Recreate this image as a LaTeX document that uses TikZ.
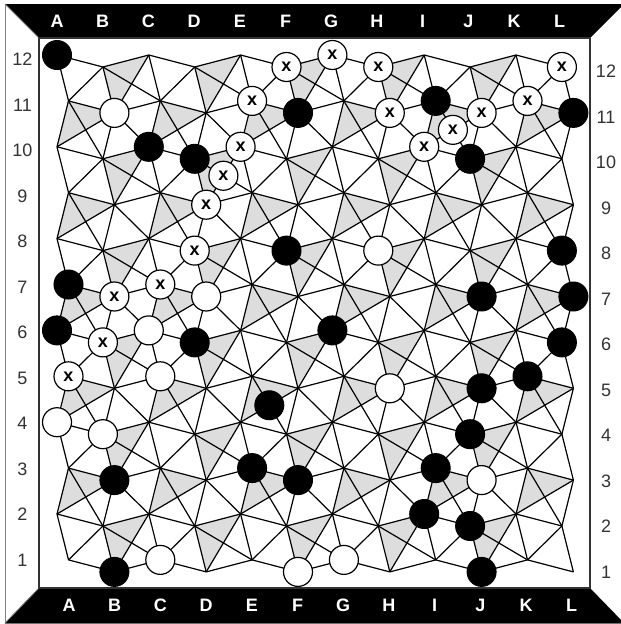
\documentclass[tikz,border=0pt]{standalone}
\usepackage{fontspec}
\setmainfont{Liberation Sans}
\definecolor{shadegray}{RGB}{221,221,221}
\definecolor{labgray}{RGB}{51,51,51}
\begin{document}
\begin{tikzpicture}[x=1pt,y=-1pt,
  gridline/.style={line width=1.2pt,black,line join=round},
  tri/.style={fill=shadegray},
  bst/.style={circle,fill=black,draw=black,line width=1pt,minimum size=29pt,inner sep=0pt},
  wst/.style={circle,fill=white,draw=black,line width=1.2pt,minimum size=29pt,inner sep=0pt},
  xst/.style={wst,font=\bfseries\fontsize{18}{18}\selectfont},
  toplab/.style={text=white,font=\bfseries\fontsize{18}{18}\selectfont},
  sidelab/.style={text=labgray,font=\fontsize{18}{18}\selectfont}]
\useasboundingbox (0,0) rectangle (621,624);
% frame
\fill[white] (0,0) rectangle (621,624);
\draw[gray,line width=0.8pt] (5,4) rectangle (624,623);
\fill[black] (5,4) -- (624,4) -- (590,38) -- (39,38) -- cycle;
\fill[black] (39,588) -- (590,588) -- (624,623) -- (5,623) -- cycle;
\draw[gray,line width=0.8pt] (5,4) -- (39,38) (5,623) -- (39,588);
\draw[labgray,line width=1.4pt] (39,38) rectangle (590,588);
% lattice
\foreach \c in {0,...,11} {\foreach \k in {0,...,11} {
  \pgfmathsetmacro\xx{57+45.9*\c+11.5*mod(\k,2)}
  \pgfmathsetmacro\yy{55+45.9*\k+12*mod(\c,2)}
  \coordinate (v-\c-\k) at (\xx,\yy);
}}
\foreach \c in {0,...,10} {\foreach \k in {0,...,10} {
  \pgfmathsetmacro\mx{85.7+45.9*\c}
  \pgfmathsetmacro\my{83.95+45.9*\k}
  \coordinate (m-\c-\k) at (\mx,\my);
}}
% shading: upper-left half of every square cell
\foreach \c in {0,...,10} {\foreach \k in {0,...,10} {
  \pgfmathtruncatemacro\cc{\c+1}
  \pgfmathtruncatemacro\kk{\k+1}
  \pgfmathtruncatemacro\p{mod(\c+\k,2)}
  \ifnum\p=1
    \fill[tri] (v-\c-\kk) -- (v-\c-\k) -- (v-\cc-\k) -- (m-\c-\k) -- cycle;
  \fi
}}
% grid edges
\foreach \c in {0,...,11} {\foreach \k in {0,...,11} {
  \pgfmathtruncatemacro\cc{\c+1}
  \pgfmathtruncatemacro\kk{\k+1}
  \ifnum\c<11 \draw[gridline] (v-\c-\k) -- (v-\cc-\k); \fi
  \ifnum\k<11 \draw[gridline] (v-\c-\k) -- (v-\c-\kk); \fi
}}
% diagonals
\foreach \c in {0,...,10} {\foreach \k in {0,...,10} {
  \pgfmathtruncatemacro\cc{\c+1}
  \pgfmathtruncatemacro\kk{\k+1}
  \pgfmathtruncatemacro\p{mod(\c,2)+2*mod(\k,2)}
  \ifnum\p=0 \draw[gridline] (v-\cc-\k) -- (v-\c-\kk); \fi
  \ifnum\p=3 \draw[gridline] (v-\c-\k) -- (v-\cc-\kk); \fi
  \ifnum\p=1 \draw[gridline] (v-\c-\k) -- (v-\cc-\kk) (v-\cc-\k) -- (v-\c-\kk); \fi
  \ifnum\p=2 \draw[gridline] (v-\c-\k) -- (v-\cc-\kk) (v-\cc-\k) -- (v-\c-\kk); \fi
}}
% labels
\foreach \L [count=\i from 0] in {A,B,C,D,E,F,G,H,I,J,K,L} {
  \node[toplab] (top\L) at (57+45.7*\i,21) {\L};
  \node[toplab] (bot\L) at (69+45.7*\i,605.5) {\L};
}
\foreach \n [count=\i from 0] in {12,11,10,9,8,7,6,5,4,3,2,1} {
  \node[sidelab] (left\n) at (22.5,59.5+45.5*\i) {\n};
  \node[sidelab] (right\n) at (606,71.5+45.5*\i) {\n};
}
% stones
\foreach \c/\k in {0/0,5/1,8/1,11/1,2/2,3/2,9/2,5/4,11/4,0/5,9/5,11/5,0/6,3/6,6/6,11/6,9/7,10/7,9/8,1/9,4/9,5/9,8/9,8/10,9/10,1/11,9/11}
  \node[bst] (b-\c-\k) at (v-\c-\k) {};
\node[bst] (bc-4-7) at (m-4-7) {};
\foreach \c/\k in {1/1,7/4,3/5,2/6,2/7,7/7,0/8,1/8,9/9,2/11,5/11,6/11}
  \node[wst] (w-\c-\k) at (v-\c-\k) {};
\foreach \c/\k in {5/0,6/0,7/0,11/0,4/1,7/1,9/1,10/1,4/2,8/2,3/3,3/4,1/5,2/5,1/6,0/7}
  \node[xst] (x-\c-\k) at (v-\c-\k) {x};
\node[xst] (xc-8-1) at (m-8-1) {x};
\node[xst] (xc-3-2) at (m-3-2) {x};
\end{tikzpicture}
\end{document}
